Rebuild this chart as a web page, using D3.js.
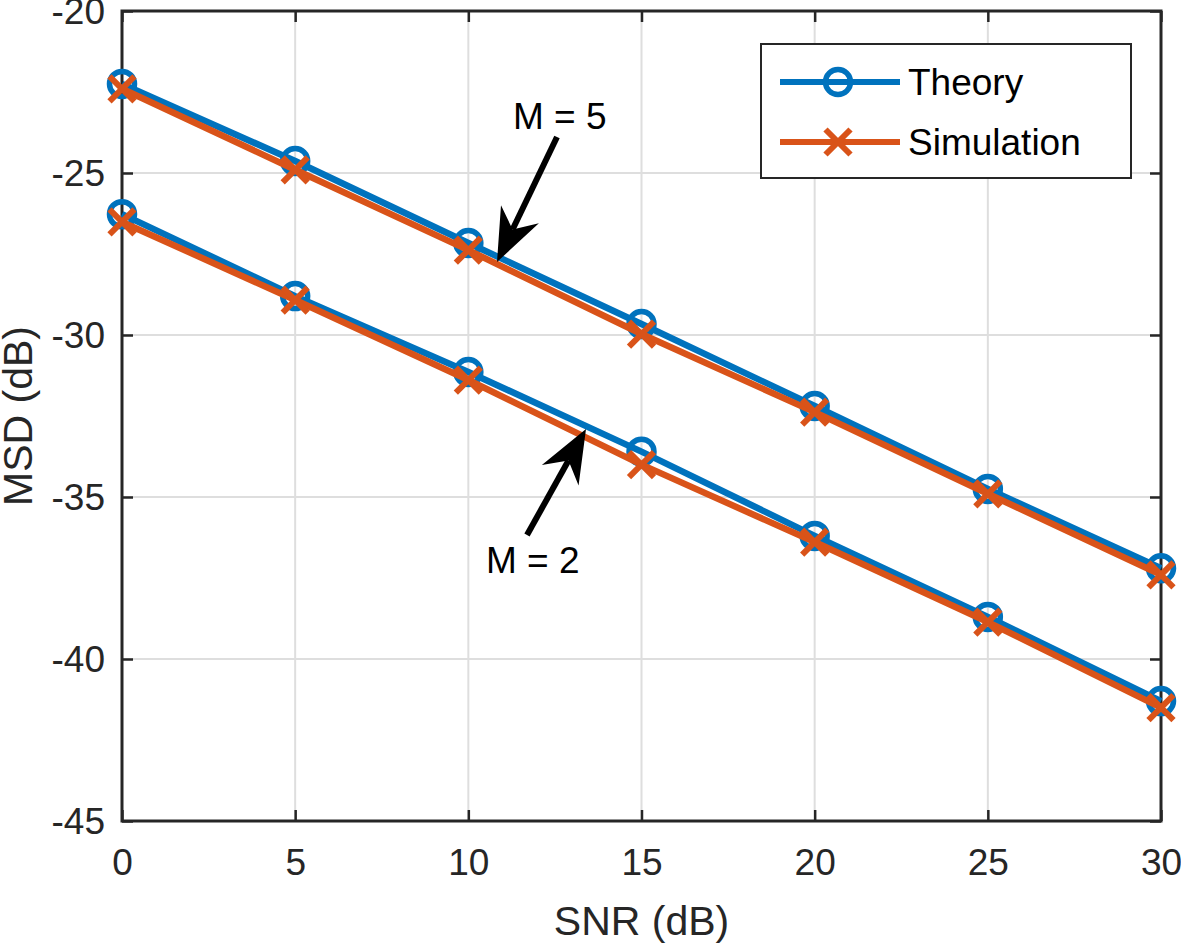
<!DOCTYPE html>
<html>
<head>
<meta charset="utf-8">
<script src="https://cdn.jsdelivr.net/npm/d3@7"></script>
<style>
  html, body { margin: 0; padding: 0; background: #fff; }
  svg { display: block; font-family: "Liberation Sans", Arial, Helvetica, sans-serif; }
</style>
</head>
<body>
<svg id="chart" width="1181" height="943"></svg>
<script>
const snr = [0, 5, 10, 15, 20, 25, 30];
const theoryM5 = [-22.25, -24.63, -27.16, -29.66, -32.19, -34.75, -37.2];
const simM5    = [-22.4, -24.9, -27.38, -29.97, -32.38, -34.9, -37.4];
const theoryM2 = [-26.27, -28.8, -31.14, -33.6, -36.2, -38.7, -41.3];
const simM2    = [-26.51, -28.92, -31.39, -34.0, -36.39, -38.86, -41.5];
const xTicks = [0, 5, 10, 15, 20, 25, 30];
const yTicks = [-45, -40, -35, -30, -25, -20];
const legendLabels = ["Theory", "Simulation"];
const xLabel = "SNR (dB)";
const yLabel = "MSD (dB)";

const blue = "#0072BD", orange = "#D95319", axisCol = "#262626";
const svg = d3.select("#chart");
const L = 122, R = 1161, T = 11, B = 821;
const x = d3.scaleLinear().domain([0, 30]).range([L, R]);
const y = d3.scaleLinear().domain([-45, -20]).range([B, T]);

// grid
const g = svg.append("g");
g.selectAll(".gx").data(xTicks).enter().append("line")
  .attr("x1", d => x(d)).attr("x2", d => x(d)).attr("y1", T).attr("y2", B)
  .attr("stroke", "#dedede").attr("stroke-width", 2);
g.selectAll(".gy").data(yTicks).enter().append("line")
  .attr("x1", L).attr("x2", R).attr("y1", d => y(d)).attr("y2", d => y(d))
  .attr("stroke", "#dedede").attr("stroke-width", 2);

// axes with inward ticks
const tickLen = 11;
const fmt = d => String(d);
const axB = svg.append("g").attr("transform", `translate(0,${B})`)
  .call(d3.axisBottom(x).tickValues(xTicks).tickSizeInner(-tickLen).tickSizeOuter(0).tickPadding(28).tickFormat(fmt));
const axT = svg.append("g").attr("transform", `translate(0,${T})`)
  .call(d3.axisTop(x).tickValues(xTicks).tickSizeInner(-tickLen).tickSizeOuter(0).tickFormat(""));
const axL = svg.append("g").attr("transform", `translate(${L},0)`)
  .call(d3.axisLeft(y).tickValues(yTicks).tickSizeInner(-tickLen).tickSizeOuter(0).tickPadding(17).tickFormat(fmt));
const axR = svg.append("g").attr("transform", `translate(${R},0)`)
  .call(d3.axisRight(y).tickValues(yTicks).tickSizeInner(-tickLen).tickSizeOuter(0).tickFormat(""));
[axB, axT, axL, axR].forEach(a => {
  a.select(".domain").remove();
  a.selectAll(".tick line").attr("stroke", axisCol).attr("stroke-width", 2.5);
  a.selectAll(".tick text").attr("fill", axisCol).style("font-size", "37px")
    .style("font-family", "'Liberation Sans', Arial, sans-serif");
});
axL.selectAll(".tick text").attr("dy", "0.35em");
axB.selectAll(".tick text").attr("dy", "0.7em");
svg.append("rect").attr("x", L).attr("y", T).attr("width", R - L).attr("height", B - T)
  .attr("fill", "none").attr("stroke", axisCol).attr("stroke-width", 3);

// axis labels
svg.append("text").attr("x", (L + R) / 2).attr("y", 935).attr("text-anchor", "middle")
  .attr("fill", axisCol).style("font-size", "41px").text(xLabel);
svg.append("text").attr("transform", `translate(32,${(T + B) / 2}) rotate(-90)`)
  .attr("text-anchor", "middle").attr("fill", axisCol).style("font-size", "41px").text(yLabel);

// series
const series = [
  { v: theoryM5, c: blue, m: "o" },
  { v: simM5, c: orange, m: "x" },
  { v: theoryM2, c: blue, m: "o" },
  { v: simM2, c: orange, m: "x" }
];
const line = d3.line().x((d, i) => x(snr[i])).y(d => y(d));
const plot = svg.append("g");
function drawMarker(sel, type, cx, cy, col) {
  if (type === "o") {
    sel.append("circle").attr("cx", cx).attr("cy", cy).attr("r", 12.5)
      .attr("fill", "none").attr("stroke", col).attr("stroke-width", 5.5);
  } else {
    const s = 12.5;
    sel.append("path").attr("d", `M${cx - s},${cy - s}L${cx + s},${cy + s}M${cx - s},${cy + s}L${cx + s},${cy - s}`)
      .attr("stroke", col).attr("stroke-width", 6).attr("fill", "none");
  }
}
series.forEach(s => {
  plot.append("path").attr("d", line(s.v)).attr("fill", "none")
    .attr("stroke", s.c).attr("stroke-width", 6.5).attr("stroke-linejoin", "round");
  s.v.forEach((d, i) => drawMarker(plot, s.m, x(snr[i]), y(d), s.c));
});

// annotations (arrows)
function arrow(x0, y0, x1, y1) {
  const dx = x1 - x0, dy = y1 - y0, len = Math.hypot(dx, dy);
  const ux = dx / len, uy = dy / len, nx = -uy, ny = ux;
  const hl = 53, hw = 21, notch = 36;
  svg.append("line").attr("x1", x0).attr("y1", y0)
    .attr("x2", x1 - ux * notch).attr("y2", y1 - uy * notch)
    .attr("stroke", "#000").attr("stroke-width", 6);
  const pts = [
    [x1, y1],
    [x1 - ux * hl + nx * hw, y1 - uy * hl + ny * hw],
    [x1 - ux * notch, y1 - uy * notch],
    [x1 - ux * hl - nx * hw, y1 - uy * hl - ny * hw]
  ];
  svg.append("path").attr("d", "M" + pts.map(p => p.join(",")).join("L") + "Z").attr("fill", "#000");
}
arrow(557, 137, 497, 262);
arrow(527, 535, 586, 429);
svg.append("text").attr("x", 513).attr("y", 129).attr("fill", "#000").style("font-size", "37px").text("M = 5");
svg.append("text").attr("x", 486).attr("y", 573).attr("fill", "#000").style("font-size", "37px").text("M = 2");

// legend
const lg = svg.append("g");
lg.append("rect").attr("x", 761).attr("y", 44).attr("width", 370).attr("height", 134)
  .attr("fill", "#fff").attr("stroke", axisCol).attr("stroke-width", 2);
const legRows = [{ c: blue, m: "o", y: 82 }, { c: orange, m: "x", y: 142 }];
legRows.forEach((r, i) => {
  lg.append("line").attr("x1", 780).attr("x2", 900).attr("y1", r.y).attr("y2", r.y)
    .attr("stroke", r.c).attr("stroke-width", 6);
  drawMarker(lg, r.m, 838, r.y, r.c);
  lg.append("text").attr("x", 908).attr("y", r.y).attr("dy", "0.35em").attr("fill", "#000")
    .style("font-size", "37px").text(legendLabels[i]);
});
</script>
</body>
</html>
